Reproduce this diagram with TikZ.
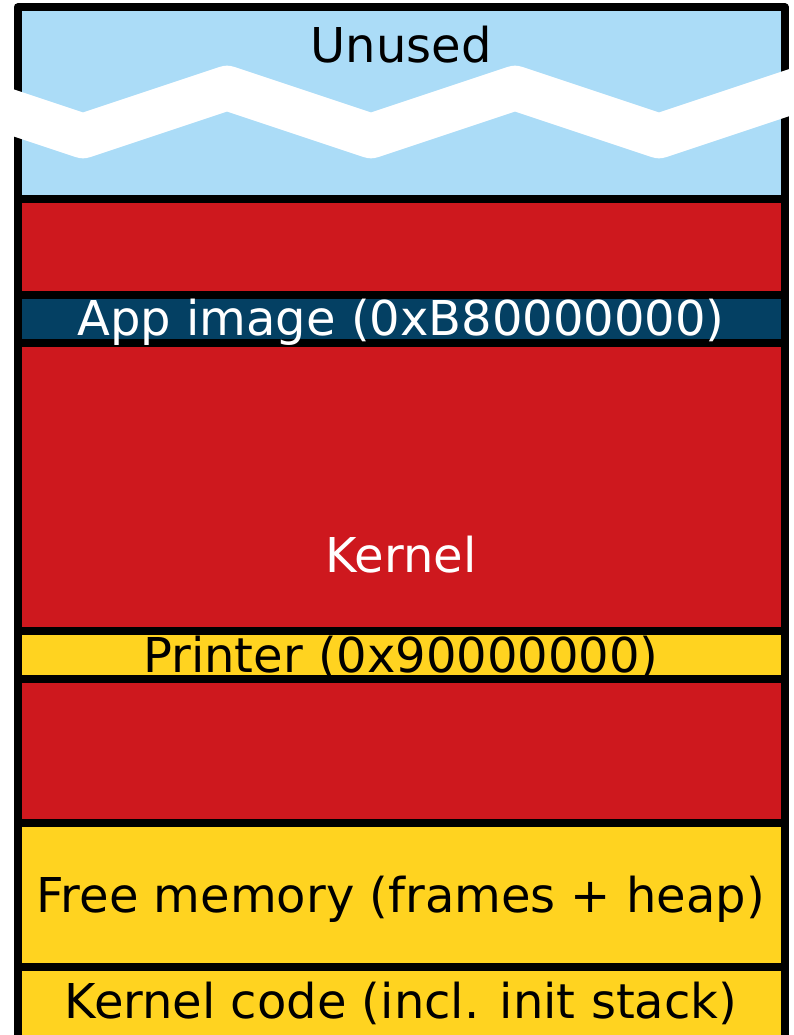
\documentclass[tikz,border=0pt]{standalone}
\usepackage{fontspec}
\setmainfont{DejaVu Sans}
\definecolor{unusedblue}{RGB}{171,220,247}
\definecolor{kernred}{RGB}{206,24,30}
\definecolor{appblue}{RGB}{4,64,99}
\definecolor{memyellow}{RGB}{255,211,32}
\tikzset{
  band/.style={line width=8pt, black},
  lbl/.style={anchor=base, inner sep=0pt, font=\fontsize{48}{58}\selectfont},
}
\begin{document}
\begin{tikzpicture}[x=1pt,y=-1pt, line join=round]
\useasboundingbox (0,0) rectangle (794,1035);
\clip (0,0) rectangle (794,1035);
% fills
\fill[unusedblue] (17.5,7.5) rectangle (785,198.5);
\fill[kernred] (17.5,198.5) rectangle (785,295);
\fill[appblue] (17.5,295) rectangle (785,343);
\fill[kernred] (17.5,343) rectangle (785,631);
\fill[memyellow] (17.5,631) rectangle (785,679);
\fill[kernred] (17.5,679) rectangle (785,823);
\fill[memyellow] (17.5,823) rectangle (785,967);
\fill[memyellow] (17.5,967) rectangle (785,1039);
% separators
\draw[band] (17.5,198.5) -- (785,198.5);
\draw[band] (17.5,295) -- (785,295);
\draw[band] (17.5,343) -- (785,343);
\draw[band] (17.5,631) -- (785,631);
\draw[band] (17.5,679) -- (785,679);
\draw[band] (17.5,823) -- (785,823);
\draw[band] (17.5,967) -- (785,967);
% outer border
\draw[band] (17.5,7.5) rectangle (785,1039);
% break mark
\draw[white, line width=44.6pt, line join=round]
  (-61,88) -- (83,136) -- (227,88) -- (371,136) -- (515,88) -- (659,136) -- (803,88);
% labels
\node[lbl, text=black] (unused) at (401,63) {Unused};
\node[lbl, text=white] (app) at (401,335) {App image (0xB80000000)};
\node[lbl, text=white] (kernel) at (401,572) {Kernel};
\node[lbl, text=black] (printer) at (401,672) {Printer (0x90000000)};
\node[lbl, text=black] (free) at (401,912) {Free memory (frames + heap)};
\node[lbl, text=black] (kcode) at (401,1018) {Kernel code (incl. init stack)};
\end{tikzpicture}
\end{document}
